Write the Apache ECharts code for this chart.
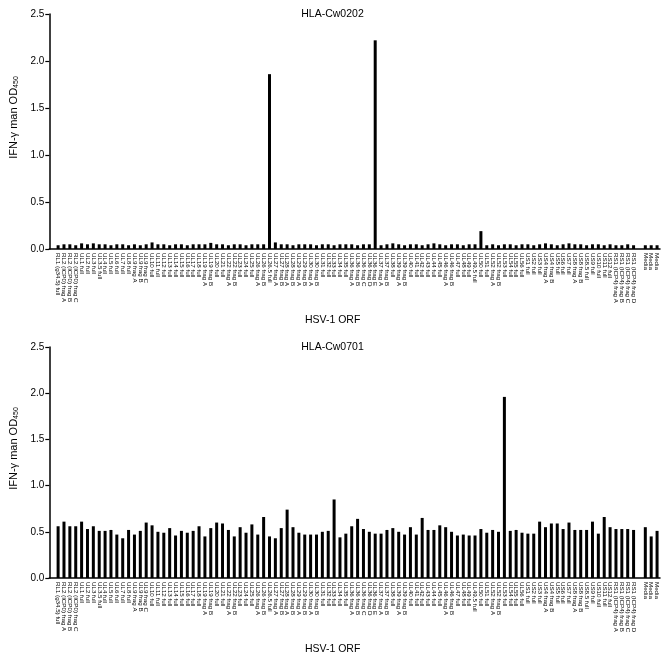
<!DOCTYPE html>
<html><head><meta charset="utf-8">
<script src="https://cdn.jsdelivr.net/npm/echarts@6/dist/echarts.min.js"></script>
<style>html,body{margin:0;padding:0;background:#fff}#c{width:665px;height:656px}</style>
</head><body><div id="c"></div>
<script>
const categories = [
'RL1 (g34.5) full','RL2 (ICP0) frag A','RL2 (ICP0) frag B','RL2 (ICP0) frag C',
'UL1 full','UL2 full','UL3 full','UL3.5 full','UL4 full','UL5 full','UL6 full','UL7 full','UL8 full',
'UL9 frag A','UL9 frag B','UL9 frag C','UL10 full','UL11 full','UL12 full','UL13 full','UL14 full',
'UL15 full','UL16 full','UL17 full','UL18 full','UL19 frag A','UL19 frag B','UL20 full','UL21 full',
'UL22 frag A','UL22 frag B','UL23 full','UL24 full','UL25 full','UL26 frag A','UL26 frag B','UL26.5 full',
'UL27 frag A','UL27 frag B','UL28 frag A','UL28 frag B','UL29 frag A','UL29 frag B','UL30 frag A','UL30 frag B',
'UL31 full','UL32 full','UL33 full','UL34 full','UL35 full','UL36 frag A','UL36 frag B','UL36 frag C',
'UL36 frag D','UL36 frag E','UL37 frag A','UL37 frag B','UL38 full','UL39 frag A','UL39 frag B','UL40 full',
'UL41 full','UL42 full','UL43 full','UL44 full','UL45 full','UL46 frag A','UL46 frag B','UL47 full',
'UL48 full','UL49 full','UL49.5 full','UL50 full','UL51 full','UL52 frag A','UL52 frag B','UL53 full',
'UL54 full','UL55 full','UL56 full','US1 full','US2 full','US3 full','US4 frag A','US4 frag B','US5 full',
'US6 full','US7 full','US8 frag A','US8 frag B','US8.5 full','US9 full','US10 full','US11 full','US12 full',
'RS1 (ICP4) frag A','RS1 (ICP4) frag B','RS1 (ICP4) frag C','RS1 (ICP4) frag D'
];
const mediaLabels = ['Media','Media','Media'];
const cw0202 = [
0.04,0.05,0.05,0.04,0.06,0.05,0.06,0.05,0.05,0.04,0.05,0.05,0.04,0.05,0.04,0.05,0.07,0.05,0.05,0.04,
0.05,0.05,0.04,0.05,0.05,0.05,0.065,0.05,0.05,0.04,0.05,0.05,0.04,0.05,0.05,0.05,1.86,0.07,0.05,0.05,
0.04,0.05,0.05,0.05,0.04,0.05,0.05,0.04,0.05,0.05,0.05,0.04,0.05,0.05,2.22,0.04,0.05,0.06,0.05,0.04,
0.05,0.05,0.04,0.05,0.06,0.05,0.04,0.05,0.05,0.04,0.05,0.05,0.19,0.04,0.05,0.04,0.05,0.05,0.04,0.05,
0.05,0.04,0.05,0.06,0.05,0.04,0.05,0.06,0.05,0.05,0.04,0.05,0.05,0.04,0.05,0.04,0.04,0.05,0.04
];
const media0202 = [0.04,0.04,0.04];
const cw0701 = [
0.56,0.61,0.56,0.56,0.61,0.53,0.56,0.51,0.51,0.52,0.47,0.43,0.52,0.47,0.51,0.60,0.57,0.50,0.49,0.54,
0.46,0.51,0.49,0.51,0.56,0.45,0.54,0.60,0.59,0.52,0.45,0.55,0.49,0.58,0.47,0.66,0.45,0.43,0.54,0.74,
0.55,0.49,0.47,0.47,0.47,0.50,0.51,0.85,0.44,0.48,0.56,0.64,0.53,0.50,0.48,0.48,0.52,0.54,0.50,0.47,
0.55,0.47,0.65,0.52,0.52,0.57,0.55,0.50,0.46,0.47,0.46,0.46,0.53,0.49,0.52,0.50,1.96,0.51,0.52,0.49,
0.48,0.48,0.61,0.55,0.59,0.59,0.53,0.60,0.52,0.52,0.52,0.61,0.48,0.66,0.55,0.53,0.53,0.53,0.52
];
const media0701 = [0.55,0.45,0.51];
const yTicks = [0, 0.5, 1.0, 1.5, 2.0, 2.5];

const axisCats = [''].concat(categories, [''], mediaLabels);
const pad = (vals, med) => [null].concat(vals, [null], med);
const font = 'Liberation Sans, Arial, Helvetica, sans-serif';

function xAxis(gi){
  return {
    type:'category', gridIndex:gi, data:axisCats,
    name:'HSV-1 ORF', nameLocation:'middle', nameGap:66,
    nameTextStyle:{fontFamily:font,fontSize:10.5,color:'#000',padding:[0,44,0,0]},
    axisLine:{lineStyle:{color:'#000',width:1.5}},
    axisTick:{alignWithLabel:true,length:3,lineStyle:{color:'#000',width:1},
      interval:(i,v)=>v!==''},
    axisLabel:{interval:0,rotate:-90,fontSize:6.2,fontFamily:font,color:'#000',margin:4}
  };
}
function yAxis(gi){
  return {
    type:'value', gridIndex:gi, min:yTicks[0], max:yTicks[yTicks.length-1], interval:0.5,
    name:'IFN-γ man OD{sub|450}', nameLocation:'middle', nameGap:27,
    nameTextStyle:{fontFamily:font,fontSize:11,color:'#000',padding:[0,0,0,28],
      rich:{sub:{fontSize:7,verticalAlign:'bottom',padding:[5,0,0,0],fontFamily:font,color:'#000'}}},
    axisLine:{show:true,lineStyle:{color:'#000',width:1.5}},
    axisTick:{show:true,length:4,lineStyle:{color:'#000',width:1.2}},
    splitLine:{show:false},
    axisLabel:{fontSize:10,fontFamily:font,color:'#000',margin:5,formatter:v=>v.toFixed(1)}
  };
}
const chart = echarts.init(document.getElementById('c'),null,{renderer:'canvas'});
chart.setOption({
  animation:false,
  backgroundColor:'#fff',
  title:[
    {text:'HLA-Cw0202',left:'center',top:4,textStyle:{fontFamily:font,fontSize:10.5,fontWeight:'normal',color:'#000'}},
    {text:'HLA-Cw0701',left:'center',top:337,textStyle:{fontFamily:font,fontSize:10.5,fontWeight:'normal',color:'#000'}}
  ],
  grid:[
    {left:43,top:14,width:617,height:235},
    {left:43,top:347,width:617,height:235}
  ],
  xAxis:[xAxis(0),xAxis(1)],
  yAxis:[yAxis(0),yAxis(1)],
  series:[
    {type:'bar',xAxisIndex:0,yAxisIndex:0,data:pad(cw0202,media0202),barWidth:3,itemStyle:{color:'#000'}},
    {type:'bar',xAxisIndex:1,yAxisIndex:1,data:pad(cw0701,media0701),barWidth:3,itemStyle:{color:'#000'}}
  ]
});
</script></body></html>
